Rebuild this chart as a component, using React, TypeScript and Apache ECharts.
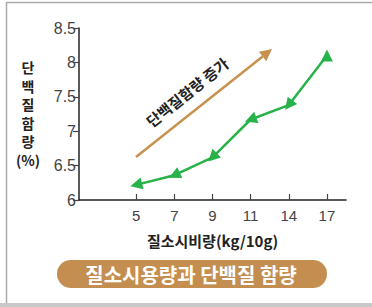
import React, { useEffect, useRef } from "react";
import * as echarts from "echarts";

const categories = ["", "5", "7", "9", "11", "14", "17"];
const proteinValues: (number | null)[] = [null, 6.22, 6.36, 6.62, 7.17, 7.38, 8.1];
const yMin = 6;
const yMax = 8.5;
const yInterval = 0.5;
const yTitleChars = ["단", "백", "질", "함", "량", "(%)"];
const xTitle = "질소시비량(kg/10g)";
const chartTitle = "질소시용량과 단백질 함량";
const trendLabel = "단백질함량 증가";

const FONT = "'Liberation Sans', 'Noto Sans CJK KR', sans-serif";
const KFONT = "'Noto Sans CJK KR', 'Liberation Sans', sans-serif";
const GREEN = "#27b24a";
const BROWN = "#c8914f";

export default function App() {
  const ref = useRef<HTMLDivElement>(null);
  useEffect(() => {
    document.body.style.margin = "0";
    const chart = echarts.init(ref.current!, null, { renderer: "svg" });

    // trend arrow geometry
    const sx = 136, sy = 157, tx = 272, ty = 49;
    const L = Math.hypot(tx - sx, ty - sy);
    const ux = (tx - sx) / L, uy = (ty - sy) / L;
    const headLen = 12, headHalf = 6;
    const bx = tx - headLen * ux, by = ty - headLen * uy;
    const nx = -uy, ny = ux;
    const angle = Math.atan2(-(ty - sy), tx - sx);

    chart.setOption({
      animation: false,
      grid: { left: 79, top: 28, width: 267, height: 172 },
      xAxis: {
        type: "category",
        data: categories,
        boundaryGap: true,
        axisLine: { show: true, lineStyle: { color: "#222", width: 1.5 } },
        axisTick: {
          show: true,
          inside: true,
          length: 6,
          alignWithLabel: true,
          interval: (i: number) => i > 0,
          lineStyle: { color: "#444", width: 1.2 },
        },
        axisLabel: { fontSize: 15, color: "#444", margin: 8, fontFamily: FONT, interval: 0 },
        name: xTitle,
        nameLocation: "middle",
        nameGap: 33,
        nameTextStyle: { fontSize: 15, fontWeight: "bold", color: "#222", fontFamily: KFONT },
      },
      yAxis: {
        type: "value",
        min: yMin,
        max: yMax,
        interval: yInterval,
        splitLine: { show: false },
        axisLine: { show: true, lineStyle: { color: "#222", width: 1.5 } },
        axisTick: { show: true, length: 6, lineStyle: { color: "#444", width: 1.2 } },
        axisLabel: { fontSize: 16, color: "#444", margin: 3, fontFamily: FONT },
      },
      series: [
        {
          type: "line",
          data: proteinValues.map((v) => (v == null ? "-" : v)),
          symbol: "triangle",
          symbolSize: [12, 12],
          lineStyle: { color: GREEN, width: 2.5 },
          itemStyle: { color: GREEN },
          z: 5,
        },
      ],
      graphic: [
        // frame
        { type: "rect", shape: { x: 0, y: 303, width: 372, height: 4 }, style: { fill: "#c8c8c8" } },
        { type: "line", shape: { x1: 6.5, y1: 2, x2: 6.5, y2: 303 }, style: { stroke: "#aaa", lineWidth: 1.5 } },
        { type: "line", shape: { x1: 6, y1: 2.5, x2: 372, y2: 2.5 }, style: { stroke: "#aaa", lineWidth: 1.5 } },
        // y title
        ...yTitleChars.map((c, i) => ({
          type: "text",
          x: 28,
          y: 67 + i * 18.5,
          style: {
            text: c,
            fontSize: 14,
            lineHeight: 16,
            fontWeight: "bold",
            fill: "#222",
            fontFamily: KFONT,
            align: "center",
            verticalAlign: "middle",
          },
        })),
        // trend arrow
        {
          type: "line",
          shape: { x1: sx, y1: sy, x2: bx, y2: by },
          style: { stroke: BROWN, lineWidth: 2.5 },
        },
        {
          type: "polygon",
          shape: {
            points: [
              [tx, ty],
              [bx + headHalf * nx, by + headHalf * ny],
              [bx - headHalf * nx, by - headHalf * ny],
            ],
          },
          style: { fill: BROWN },
        },
        {
          type: "text",
          x: 187,
          y: 92,
          rotation: angle,
          style: {
            text: trendLabel,
            fontSize: 15,
            fontWeight: "bold",
            fill: "#222",
            fontFamily: KFONT,
            align: "center",
            verticalAlign: "middle",
          },
        },
        // title pill
        {
          type: "rect",
          shape: { x: 57, y: 260, width: 270, height: 28, r: 14 },
          style: { fill: "#c38e50" },
        },
        {
          type: "text",
          x: 191,
          y: 274,
          style: {
            text: chartTitle,
            fontSize: 20,
            fontWeight: "bold",
            fill: "#fff",
            fontFamily: KFONT,
            align: "center",
            verticalAlign: "middle",
          },
        },
      ],
    });

    // rotate each triangle to point along the line (from the next point back to this one)
    const pts = proteinValues.map((v, i) =>
      v == null ? null : (chart.convertToPixel({ gridIndex: 0 }, [i, v]) as number[])
    );
    const data = proteinValues.map((v, i) => {
      if (v == null) return "-";
      let rot = 0;
      const p = pts[i];
      const n = pts[i + 1];
      if (p && n) {
        const dx = p[0] - n[0];
        const dy = p[1] - n[1];
        rot = (Math.atan2(-dy, dx) * 180) / Math.PI - 90;
      }
      return { value: v, symbolRotate: rot };
    });
    chart.setOption({ series: [{ data }] });

    return () => chart.dispose();
  }, []);
  return (
    <div
      ref={ref}
      style={{ position: "fixed", left: 0, top: 0, width: 372, height: 307, background: "#fff" }}
    />
  );
}
